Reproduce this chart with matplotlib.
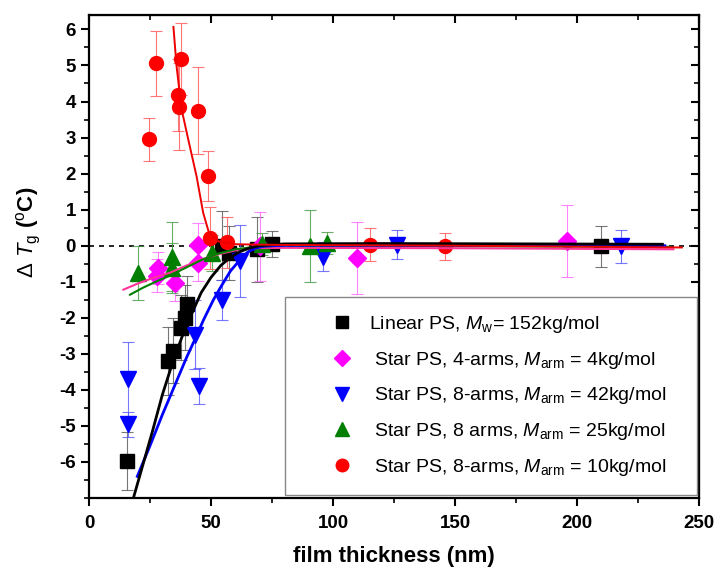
import numpy as np
import matplotlib.pyplot as plt
from matplotlib.ticker import MultipleLocator

plt.rcParams["font.family"] = ["Liberation Sans", "DejaVu Sans"]
plt.rcParams["mathtext.fontset"] = "custom"
plt.rcParams["mathtext.rm"] = "Liberation Sans"
plt.rcParams["mathtext.it"] = "Liberation Sans:italic"
plt.rcParams["mathtext.bf"] = "Liberation Sans:bold"
plt.rcParams["axes.unicode_minus"] = False

# measured points (thickness nm, dTg, error)
lin_x = [15.4, 32.5, 34.5, 37.7, 39.3, 40.0, 54.5, 57.5, 69.0, 74.9, 209.8]
lin_y = [-5.97, -3.2, -2.92, -2.28, -2.0, -1.63, 0.0, -0.2, -0.1, 0.05, -0.02]
lin_e = [0.8, 0.95, 0.9, 0.9, 0.9, 0.8, 0.95, 0.75, 0.9, 0.35, 0.57]

s4_x = [27.7, 28.4, 35.2, 44.8, 44.8, 70.0, 109.7, 195.8]
s4_y = [-0.83, -0.62, -1.03, 0.03, -0.48, -0.02, -0.34, 0.12]
s4_e = [0.45, 0.45, 0.5, 0.6, 0.5, 0.95, 1.0, 1.0]

s42_x = [15.8, 16.1, 43.4, 45.1, 54.6, 61.9, 96.0, 126.1, 218.0]
s42_y = [-3.71, -4.96, -2.47, -3.9, -1.5, -0.43, -0.3, 0.03, -0.02]
s42_e = [1.05, 0.35, 0.95, 0.5, 0.55, 1.0, 0.4, 0.4, 0.45]

s25_x = [20.2, 33.9, 33.9, 50.3, 71.0, 90.6, 97.4]
s25_y = [-0.76, -0.3, -0.62, -0.2, 0.05, 0.0, 0.07]
s25_e = [0.75, 0.95, 0.7, 0.5, 0.3, 1.0, 0.3]

s10_x = [24.7, 27.5, 36.6, 37.0, 37.6, 44.8, 48.6, 49.6, 56.4, 115.2, 145.9]
s10_y = [2.95, 5.06, 4.18, 3.86, 5.17, 3.75, 1.94, 0.21, 0.09, 0.03, -0.02]
s10_e = [0.6, 0.9, 1.0, 1.2, 1.0, 1.2, 0.7, 0.85, 0.7, 0.45, 0.38]

# fitted curves
lin_fx = [18.2, 22, 26, 30, 34, 38, 42, 46, 50, 54, 58, 62, 66, 70, 80, 120, 180, 235]
lin_fy = [-7.0, -6.1, -5.15, -4.15, -3.3, -2.55, -1.9, -1.3, -0.88, -0.55, -0.32, -0.16,
          -0.06, 0.0, 0.05, 0.06, 0.05, 0.04]
s42_fx = [19.8, 25, 30, 35, 40, 43.4, 47, 51, 54.4, 58, 61.9, 65, 68, 72, 80, 150, 236]
s42_fy = [-6.4, -5.55, -4.7, -3.9, -3.1, -2.6, -2.05, -1.5, -1.1, -0.7, -0.39, -0.18,
          -0.07, -0.01, 0.01, 0.01, 0.0]
s10_fx = [34.6, 35.9, 38.0, 40.7, 44.1, 46.8, 49.2, 53, 60, 80, 150, 243]
s10_fy = [6.07, 4.97, 3.77, 2.94, 1.92, 0.91, 0.35, 0.12, 0.04, 0.02, 0.0, -0.05]
s4_fx = [14.1, 20, 26, 33.2, 40, 46, 53, 60, 66.7, 80, 150, 239.5]
s4_fy = [-1.22, -1.05, -0.9, -0.75, -0.55, -0.38, -0.24, -0.13, -0.07, -0.06, -0.07, -0.1]
s25_fx = [16.8, 22, 28, 33.2, 40, 46, 53, 60, 68, 80, 150, 238]
s25_fy = [-1.36, -1.17, -0.98, -0.83, -0.6, -0.4, -0.22, -0.1, -0.03, 0.0, -0.01, -0.03]

labels = [
    r"Linear PS, $M_{\rm w}$= 152kg/mol",
    r" Star PS, 4-arms, $M_{\rm arm}$ = 4kg/mol",
    r" Star PS, 8-arms, $M_{\rm arm}$ = 42kg/mol",
    r" Star PS, 8 arms, $M_{\rm arm}$ = 25kg/mol",
    r" Star PS, 8-arms, $M_{\rm arm}$ = 10kg/mol",
]

fig = plt.figure(figsize=(7.22, 5.78), dpi=100)
ax = fig.add_axes([89 / 722, 80 / 578, 610 / 722, 483 / 578])

ax.axhline(0, color="black", ls=(0, (3, 3)), lw=1.2, zorder=1)

series = [
    (lin_x, lin_y, lin_e, "s", "black", "#555555", 10),
    (s4_x, s4_y, s4_e, "D", "#ff00ff", "#ff66ff", 9),
    (s42_x, s42_y, s42_e, "v", "#0000ff", "#5555ff", 11),
    (s25_x, s25_y, s25_e, "^", "#007f00", "#449944", 11),
    (s10_x, s10_y, s10_e, "o", "#ff0000", "#ff5555", 10),
]
handles = []
for (x, y, e, m, c, ec, ms), lab in zip(series, labels):
    ax.errorbar(x, y, yerr=e, fmt="none", ecolor=ec, elinewidth=0.8,
                capsize=4, capthick=0.8, alpha=0.8, zorder=2)
    h, = ax.plot(x, y, m, color=c, ms=ms, mec=c, ls="none", zorder=3, label=lab)
    handles.append(h)

ax.plot(s4_fx, s4_fy, color="#ff3399", lw=1.5, zorder=4)
ax.plot(s25_fx, s25_fy, color="#008000", lw=1.5, zorder=4)
ax.plot(s42_fx, s42_fy, color="#0000ff", lw=2, zorder=4)
ax.plot(lin_fx, lin_fy, color="black", lw=2, zorder=4)
ax.plot(s10_fx, s10_fy, color="#ee0000", lw=1.4, zorder=4)

ax.set_xlim(0, 250)
ax.set_ylim(-7, 6.4)
ax.set_xticks(range(0, 251, 50))
ax.set_yticks(range(-6, 7))
ax.xaxis.set_minor_locator(MultipleLocator(25))
ax.yaxis.set_minor_locator(MultipleLocator(0.5))
ax.tick_params(which="major", direction="out", length=6, width=1.5, labelsize=13.5)
ax.tick_params(axis="x", which="major", pad=6)
ax.tick_params(which="minor", direction="out", length=3.5, width=1.2)
for t in ax.get_xticklabels() + ax.get_yticklabels():
    t.set_fontweight("bold")
for s in ax.spines.values():
    s.set_linewidth(1.6)

top = ax.secondary_xaxis("top")
top.set_xticks(range(0, 251, 50))
top.xaxis.set_minor_locator(MultipleLocator(25))
top.tick_params(which="major", direction="in", length=6, width=1.5, labeltop=False)
top.tick_params(which="minor", direction="in", length=3.5, width=1.2)
right = ax.secondary_yaxis("right")
right.set_yticks(range(-6, 7))
right.yaxis.set_minor_locator(MultipleLocator(0.5))
right.tick_params(which="major", direction="in", length=6, width=1.5, labelright=False)
right.tick_params(which="minor", direction="in", length=3.5, width=1.2)

ax.set_xlabel("film thickness (nm)", fontsize=16, fontweight="bold", labelpad=10)
ax.set_ylabel(r"$\Delta$ $T_{\rm g}$ ($^{\rm o}$C)", fontsize=16, fontweight="bold")
ax.yaxis.set_label_coords(-0.075, 0.55)

leg = ax.legend(handles=handles, loc="lower left", bbox_to_anchor=(0.321, 0.006, 0.676, 0.41),
                mode="expand", fontsize=14, frameon=True, fancybox=False,
                edgecolor="#888888", framealpha=1, labelspacing=0.75, borderpad=0.9,
                handletextpad=-0.65, borderaxespad=0, markerscale=0.9, handlelength=4.1)
leg.get_frame().set_linewidth(1.0)

fig.savefig("out.png", dpi=100)
